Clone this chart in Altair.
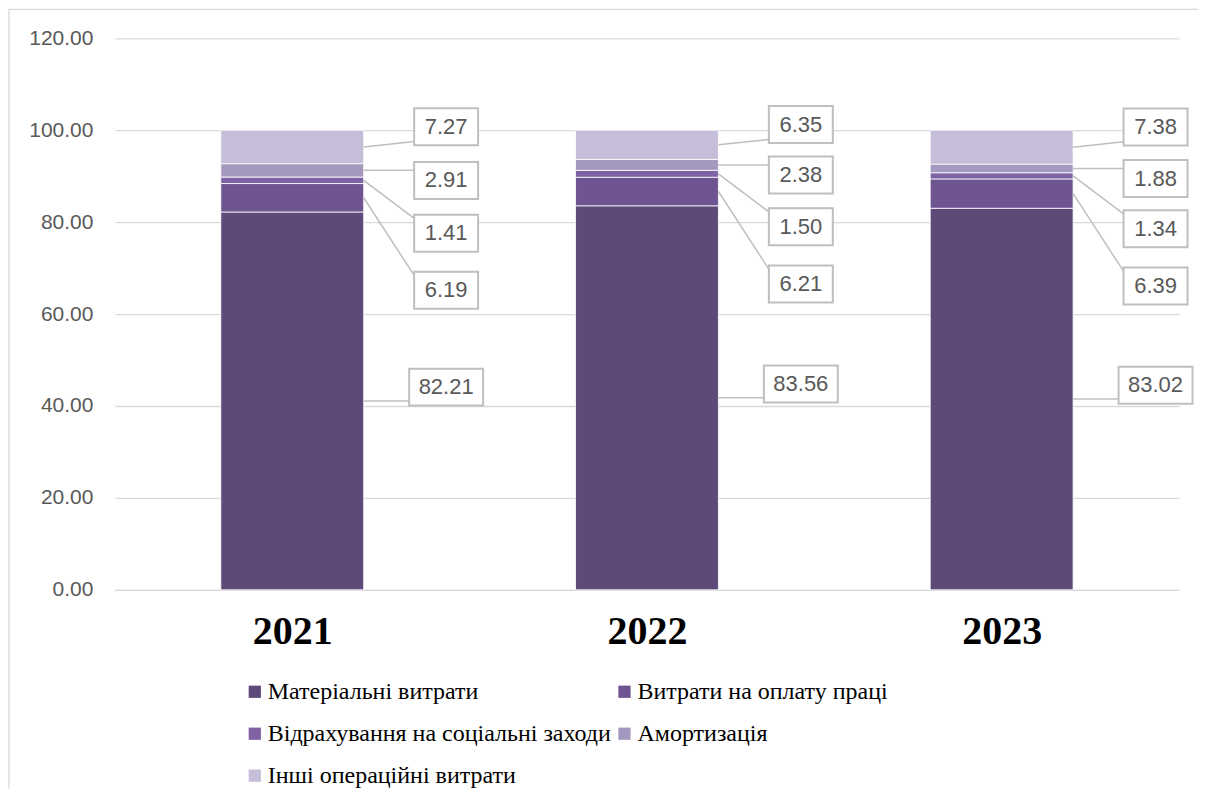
import altair as alt
import pandas as pd

# ---------------- data ----------------
years = ["2021", "2022", "2023"]
series = [
    "Матеріальні витрати",
    "Витрати на оплату праці",
    "Відрахування на соціальні заходи",
    "Амортизація",
    "Інші операційні витрати",
]
material = [82.21, 83.56, 83.02]
labor = [6.19, 6.21, 6.39]
social = [1.41, 1.50, 1.34]
amort = [2.91, 2.38, 1.88]
other = [7.27, 6.35, 7.38]

# ---------------- style ----------------
colors = ["#5E4A78", "#6E5490", "#7F62A3", "#A598BF", "#C6BED8"]
label_shift = [3.0, -20.1, -11.5, -2.2, 4.4]  # callout vertical shift (y units) per series
W, H = 1065, 552
PAD = {"left": 107, "top": 30, "right": 19, "bottom": 199}
Y_MAX = 120
PX_X = W / 3.0          # px per x unit (domain -0.5..2.5)
PX_Y = H / Y_MAX        # px per y unit
BAR_HALF = 71.5 / PX_X
LABEL_DX = 154 / PX_X
BOX_HH = 18.5 / PX_Y
GRAY = "#595959"
LINE = "#BFBFBF"
SERIF = "Liberation Serif"

values_by_series = [material, labor, social, amort, other]
rows = []
for i, yr in enumerate(years):
    base = 0.0
    for j, name in enumerate(series):
        v = values_by_series[j][i]
        y0, y1 = base, base + v
        base = y1
        mid = (y0 + y1) / 2
        ly = mid + label_shift[j]
        txt = f"{v:.2f}"
        hw = (10 * len(txt) + 24) / 2 / PX_X
        cx = i + LABEL_DX
        end_y = min(max(mid, ly - 0.8 * BOX_HH), ly + 0.8 * BOX_HH)
        rows.append(dict(
            pos=i, series=name, order=j, value=v, y0=y0, y1=y1,
            bx0=i - BAR_HALF, bx1=i + BAR_HALF,
            mid=mid, ly=ly, txt=txt, cx=cx,
            lx0=cx - hw, lx1=cx + hw, ly0=ly - BOX_HH, ly1=ly + BOX_HH,
            end_y=end_y,
        ))
df = pd.DataFrame(rows)

xscale = alt.Scale(domain=[-0.5, 2.5], nice=False, zero=False)
yscale = alt.Scale(domain=[0, Y_MAX], nice=False)
label_expr = "[" + ",".join(f"'{y}'" for y in years) + "][datum.value]"

x_axis = alt.Axis(
    values=list(range(len(years))), labelExpr=label_expr, title=None,
    grid=False, ticks=False, domain=True, domainColor="#D9D9D9", domainWidth=1.3,
    labelFont=SERIF, labelFontWeight="bold", labelFontSize=40,
    labelColor="#000000", labelPadding=22,
)
y_axis = alt.Axis(
    values=list(range(0, Y_MAX + 1, 20)), format=".2f", title=None,
    grid=True, gridColor="#D9D9D9", gridWidth=1.3, domain=False, ticks=False,
    labelFont="Liberation Sans", labelFontSize=21, labelColor=GRAY, labelPadding=22,
)

base = alt.Chart(df)

one = pd.DataFrame({"a": [0]})
frame_top = alt.Chart(one).mark_rule(color="#D9D9D9", strokeWidth=1.3).encode(
    x=alt.value(-106), x2=alt.value(W + PAD["right"]), y=alt.value(-29)
)
frame_left = alt.Chart(one).mark_rule(color="#D9D9D9", strokeWidth=1.3).encode(
    x=alt.value(-106), y=alt.value(-29), y2=alt.value(H + PAD["bottom"])
)

bars = base.mark_bar(stroke="white", strokeWidth=0.8).encode(
    x=alt.X("bx0:Q", scale=xscale, axis=x_axis),
    x2="bx1:Q",
    y=alt.Y("y0:Q", scale=yscale, axis=y_axis),
    y2="y1:Q",
    color=alt.Color(
        "series:N",
        scale=alt.Scale(domain=series, range=colors),
        sort=series,
        legend=alt.Legend(
            title=None, orient="none", legendX=128, legendY=642,
            direction="horizontal", columns=2, symbolType="square",
            symbolSize=150, symbolStrokeWidth=0, labelFont=SERIF,
            labelFontSize=24, labelColor="#000000", labelOffset=1,
            rowPadding=18, columnPadding=1, labelLimit=600,
        ),
    ),
    order="order:Q",
)

leaders = base.mark_rule(color=LINE, strokeWidth=1.5).encode(
    x=alt.X("bx1:Q", scale=xscale),
    x2="lx0:Q",
    y=alt.Y("mid:Q", scale=yscale),
    y2="end_y:Q",
)

boxes = base.mark_rect(fill="white", stroke=LINE, strokeWidth=2).encode(
    x=alt.X("lx0:Q", scale=xscale),
    x2="lx1:Q",
    y=alt.Y("ly0:Q", scale=yscale),
    y2="ly1:Q",
)

texts = base.mark_text(
    font="Liberation Sans", fontSize=22, color=GRAY, align="center", baseline="middle"
).encode(
    x=alt.X("cx:Q", scale=xscale),
    y=alt.Y("ly:Q", scale=yscale),
    text="txt:N",
)

chart = alt.layer(frame_top, frame_left, bars, leaders, boxes, texts).properties(
    width=W, height=H,
    autosize=alt.AutoSizeParams(type="none"),
    padding=PAD,
).configure_view(stroke=None).configure_legend(
    labelFont=SERIF, labelFontSize=24, labelColor="#000000"
)

chart.save("out.html", embed_options={"renderer": "svg", "actions": False})
